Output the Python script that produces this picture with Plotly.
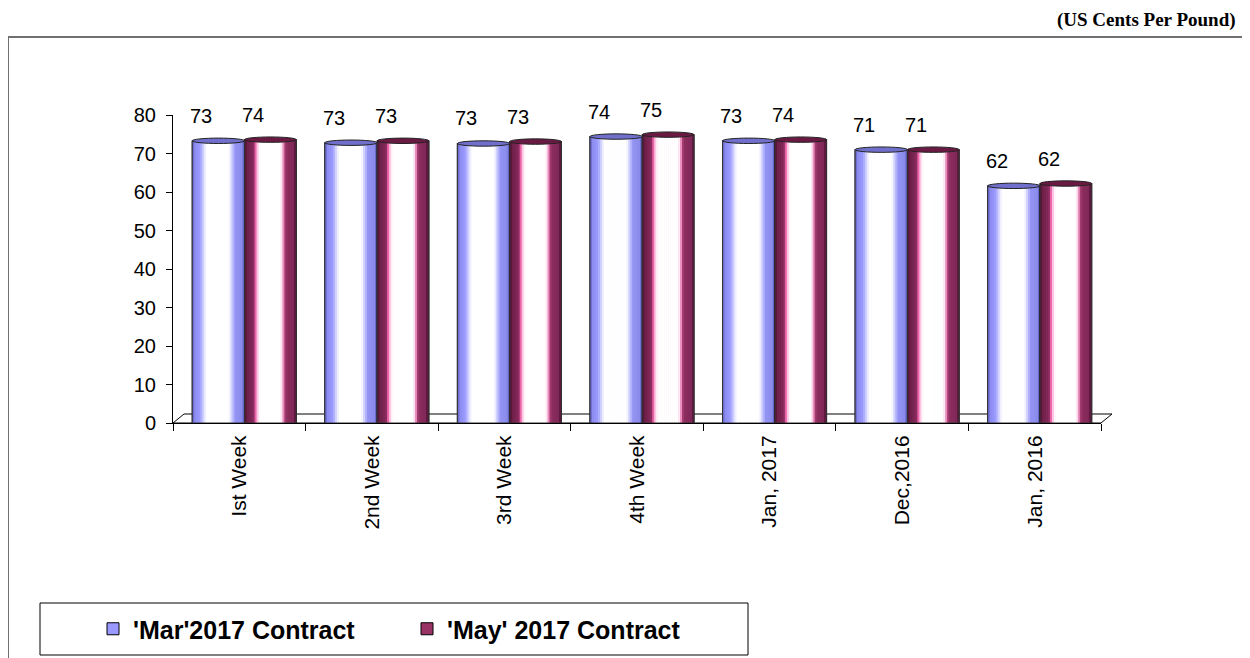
import plotly.graph_objects as go

categories = ["Ist Week", "2nd Week", "3rd Week", "4th Week", "Jan, 2017", "Dec,2016", "Jan, 2016"]
mar_2017 = [73.3, 72.8, 72.6, 74.4, 73.3, 71.0, 61.6]
may_2017 = [73.6, 73.3, 73.1, 74.9, 73.6, 71.0, 62.2]
series_names = ["'Mar'2017 Contract", "'May' 2017 Contract"]
y_ticks = [0, 10, 20, 30, 40, 50, 60, 70, 80]

W, H = 1250, 658
OFF = 8  # page body margin
L, T = 173 - OFF, 115 - OFF
PW, PH = 928, 308
R, B = W - L - PW, H - T - PH

def px_x(p):
    return (p - OFF - L) / PW

def px_y(p):
    return (T + PH - (p - OFF)) / PH

def hex2rgb(h):
    h = h.lstrip('#')
    return tuple(int(h[i:i + 2], 16) for i in (0, 2, 4))

def interp(stops, t):
    for (a, ca), (b, cb) in zip(stops[:-1], stops[1:]):
        if a <= t <= b:
            f = 0 if b == a else (t - a) / (b - a)
            c1, c2 = hex2rgb(ca), hex2rgb(cb)
            return "rgb(%d,%d,%d)" % tuple(round(c1[k] + (c2[k] - c1[k]) * f) for k in range(3))
    return stops[-1][1]

styles = [
    dict(name=series_names[0], values=mar_2017, offset=-0.355, width=0.395,
         base="#9999FF", cap="#7070cc",
         stops=[(0, '#5656b8'), (0.04, '#8a8aee'), (0.15, '#9a9aff'), (0.22, '#d8d8ff'),
                (0.27, '#ffffff'), (0.70, '#ffffff'), (0.77, '#c0c0ff'), (0.82, '#9494f4'),
                (0.95, '#8a8aea'), (1, '#5050b0')]),
    dict(name=series_names[1], values=may_2017, offset=0.04, width=0.39,
         base="#993366", cap="#6a1a42",
         stops=[(0, '#4a1030'), (0.05, '#6e2048'), (0.17, '#84285a'), (0.22, '#ff70b8'),
                (0.26, '#ffe0f0'), (0.30, '#ffffff'), (0.70, '#ffffff'), (0.74, '#ffb0d8'),
                (0.77, '#c04a88'), (0.80, '#8e2e5e'), (0.95, '#80285a'), (1, '#4a1030')]),
]

fig = go.Figure()
N = 26
shapes = []
annotations = []
for s in styles:
    fig.add_trace(go.Bar(x=categories, y=s["values"], name=s["name"], offset=s["offset"],
                         width=s["width"], marker=dict(color=s["base"], line=dict(color="black", width=1)),
                         showlegend=True, hoverinfo="skip"))
    sw = s["width"] / N
    for k in range(N):
        t = (k + 0.5) / N
        fig.add_trace(go.Bar(x=categories, y=s["values"], offset=s["offset"] + k * sw,
                             width=sw * 1.35 if k < N - 1 else sw,
                             marker=dict(color=interp(s["stops"], t), line=dict(width=0)),
                             showlegend=False, hoverinfo="skip"))
    fig.add_trace(go.Bar(x=categories, y=s["values"], offset=s["offset"], width=s["width"],
                         marker=dict(color="rgba(0,0,0,0)", line=dict(color="#333333", width=1)),
                         showlegend=False, hoverinfo="skip"))
    for i, v in enumerate(s["values"]):
        x0 = i + s["offset"]
        x1 = x0 + s["width"]
        shapes.append(dict(type="circle", xref="x", yref="y", x0=x0, x1=x1, y0=v - 0.7, y1=v + 0.7,
                           fillcolor=s["cap"], line=dict(color="#222222", width=1), layer="above"))
        annotations.append(dict(x=(x0 + x1) / 2 - 0.13, y=v, xref="x", yref="y", text=f"{v:.0f}",
                                showarrow=False, yanchor="bottom", yshift=12,
                                font=dict(family="Liberation Sans, Arial", size=20, color="black")))

# 3D floor
dx, dy = 11 / PW, 9 / PH
shapes.append(dict(type="path", xref="paper", yref="paper",
                   path=f"M 0 0 L {dx} {dy} L {1 + dx} {dy} L 1 0 Z",
                   line=dict(color="black", width=1), layer="below"))
# outer frame
shapes.append(dict(type="line", xref="paper", yref="paper", x0=px_x(8), x1=px_x(1260),
                   y0=px_y(37), y1=px_y(37), line=dict(color="#707070", width=2)))
shapes.append(dict(type="line", xref="paper", yref="paper", x0=px_x(8), x1=px_x(8),
                   y0=px_y(37), y1=px_y(670), line=dict(color="#707070", width=2)))
# legend box
shapes.append(dict(type="rect", xref="paper", yref="paper", x0=px_x(40), x1=px_x(748),
                   y0=px_y(655), y1=px_y(603), line=dict(color="black", width=1)))

annotations.append(dict(x=px_x(1238), y=px_y(20), xref="paper", yref="paper", xanchor="right",
                        yanchor="middle", showarrow=False, text="<b>(US Cents Per Pound)</b>",
                        font=dict(family="Liberation Serif, Times New Roman", size=19, color="black")))

fig.update_layout(
    width=W, height=H,
    margin=dict(l=L, r=R, t=T, b=B, autoexpand=False),
    paper_bgcolor="white", plot_bgcolor="white",
    barmode="overlay",
    showlegend=True,
    legend=dict(orientation="h", x=px_x(93), y=px_y(629), xanchor="left", yanchor="middle",
                bgcolor="rgba(0,0,0,0)", borderwidth=0, entrywidth=269, entrywidthmode="pixels",
                font=dict(family="Liberation Sans, Arial", size=25, color="black", weight="bold")),
    shapes=shapes, annotations=annotations,
    font=dict(family="Liberation Sans, Arial", size=20, color="black"),
)
fig.update_xaxes(type="category", categoryorder="array", categoryarray=categories,
                 range=[-0.5, 6.5], showline=True, linecolor="black", linewidth=1,
                 ticks="outside", tickson="boundaries", ticklen=7, tickcolor="black",
                 tickangle=-90, showgrid=False, zeroline=False, ticklabelstandoff=3,
                 tickfont=dict(family="Liberation Sans, Arial", size=21, color="black"))
fig.update_yaxes(range=[0, 80], tickvals=y_ticks, showline=True, linecolor="black", linewidth=1,
                 ticks="outside", ticklen=6, tickcolor="black", showgrid=False, zeroline=False,
                 ticklabelstandoff=6,
                 tickfont=dict(family="Liberation Sans, Arial", size=20, color="black"))

fig.write_html("out.html")
